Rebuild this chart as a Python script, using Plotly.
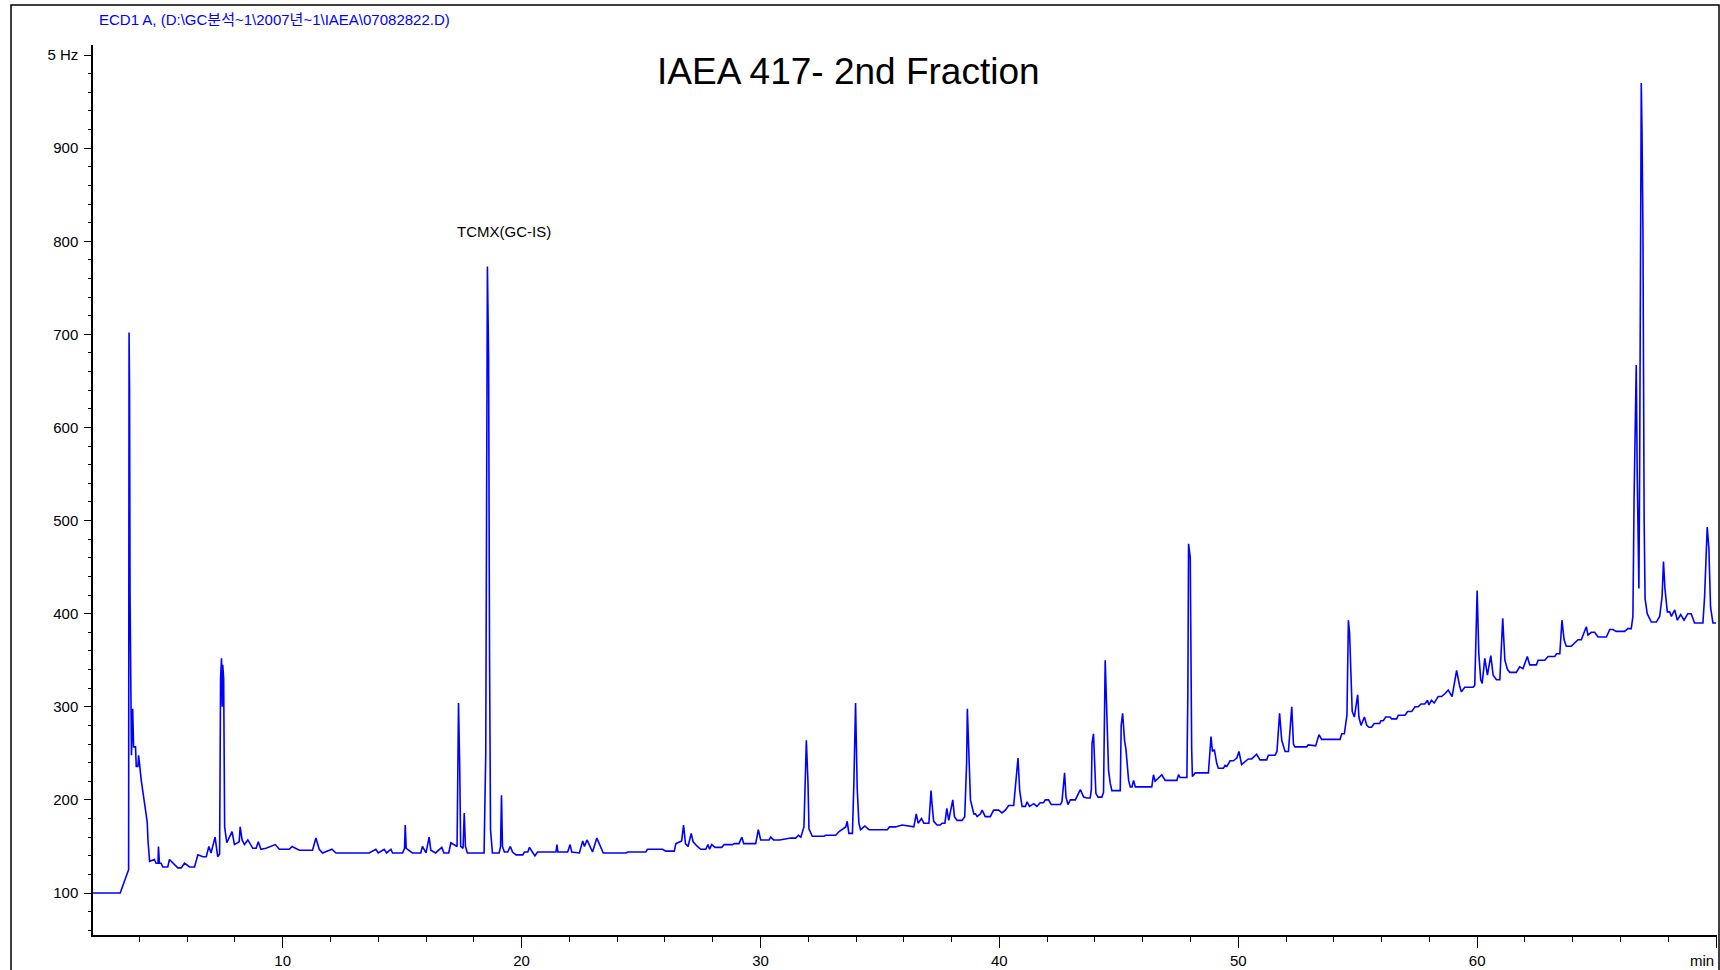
import plotly.graph_objects as go

# Retention time (min) and detector signal (Hz)
time_min = [
    2.00, 3.20, 3.24, 3.38, 3.52, 3.55, 3.57, 3.59, 3.61, 3.64, 3.67, 3.72, 3.76, 3.84, 3.87, 3.94, 3.97,
    4.08, 4.15, 4.26, 4.33, 4.36, 4.43, 4.63, 4.70, 4.78, 4.80, 4.84, 4.91, 4.98, 5.19, 5.26, 5.40, 5.61,
    5.75, 5.89, 6.10, 6.31, 6.45, 6.66, 6.80, 6.91, 7.00, 7.10, 7.17, 7.28, 7.36, 7.40, 7.44, 7.47, 7.49,
    7.53, 7.57, 7.66, 7.77, 7.88, 7.98, 8.18, 8.22, 8.30, 8.40, 8.54, 8.75, 8.89, 8.98, 9.09, 9.30, 9.69,
    9.86, 10.28, 10.39, 10.70, 11.25, 11.39, 11.53, 11.67, 12.06, 12.23, 13.62, 13.90, 14.00, 14.25, 14.35,
    14.53, 14.60, 15.02, 15.10, 15.13, 15.17, 15.43, 15.78, 15.85, 16.00, 16.13, 16.20, 16.40, 16.66, 16.75,
    16.95, 17.04, 17.30, 17.36, 17.41, 17.45, 17.55, 17.60, 17.65, 17.73, 18.43, 18.50, 18.57, 18.62, 18.66,
    18.70, 18.78, 19.06, 19.12, 19.16, 19.20, 19.28, 19.42, 19.53, 19.62, 19.77, 20.05, 20.12, 20.26, 20.33,
    20.45, 20.56, 20.67, 20.88, 21.02, 21.44, 21.48, 21.52, 21.93, 22.03, 22.10, 22.42, 22.56, 22.63, 22.74,
    22.81, 22.97, 23.15, 23.29, 23.42, 24.37, 24.44, 25.20, 25.27, 25.90, 26.04, 26.39, 26.46, 26.70, 26.78,
    26.86, 26.97, 27.10, 27.18, 27.36, 27.50, 27.71, 27.80, 27.87, 27.96, 28.10, 28.38, 28.48, 28.83, 28.90,
    29.10, 29.22, 29.30, 29.80, 29.91, 30.01, 30.36, 30.43, 30.55, 30.80, 31.00, 31.27, 31.47, 31.59, 31.69,
    31.82, 31.92, 31.99, 32.03, 32.17, 32.66, 32.73, 33.15, 33.22, 33.29, 33.57, 33.63, 33.70, 33.85, 33.91,
    33.98, 34.05, 34.12, 34.19, 34.37, 34.54, 34.61, 35.31, 35.40, 35.65, 35.93, 36.42, 36.52, 36.60, 36.74,
    36.84, 37.05, 37.09, 37.14, 37.18, 37.25, 37.39, 37.53, 37.60, 37.72, 37.80, 37.88, 38.05, 38.12, 38.23,
    38.44, 38.55, 38.63, 38.66, 38.72, 38.79, 38.93, 39.00, 39.07, 39.21, 39.28, 39.41, 39.62, 39.76, 39.97,
    40.11, 40.25, 40.39, 40.60, 40.72, 40.78, 40.85, 40.95, 41.09, 41.16, 41.26, 41.44, 41.57, 41.71, 41.85,
    41.92, 42.06, 42.17, 42.55, 42.62, 42.73, 42.79, 42.87, 42.97, 43.18, 43.39, 43.53, 43.67, 43.80, 43.85,
    43.88, 43.94, 44.04, 44.13, 44.29, 44.36, 44.43, 44.51, 44.57, 44.64, 44.71, 45.06, 45.10, 45.16, 45.24,
    45.30, 45.41, 45.48, 45.55, 45.62, 45.69, 46.38, 46.45, 46.52, 46.80, 46.94, 47.43, 47.50, 47.57, 47.85,
    47.89, 47.92, 47.99, 48.05, 48.08, 48.20, 48.75, 48.86, 48.92, 49.00, 49.10, 49.17, 49.38, 49.45, 49.52,
    49.66, 49.80, 49.94, 50.03, 50.14, 50.28, 50.42, 50.56, 50.77, 50.91, 51.19, 51.26, 51.54, 51.62, 51.73,
    51.82, 51.96, 52.10, 52.24, 52.31, 52.37, 52.86, 52.93, 53.24, 53.38, 53.49, 54.26, 54.33, 54.44, 54.55,
    54.61, 54.66, 54.72, 54.77, 54.86, 55.00, 55.05, 55.14, 55.28, 55.38, 55.47, 55.58, 55.69, 55.92, 55.97,
    56.07, 56.17, 56.35, 56.42, 56.63, 56.70, 56.98, 57.09, 57.26, 57.40, 57.53, 57.65, 57.81, 57.92, 57.98,
    58.09, 58.20, 58.37, 58.51, 58.65, 58.79, 58.95, 59.14, 59.27, 59.34, 59.48, 59.83, 59.90, 59.94, 60.00,
    60.07, 60.15, 60.21, 60.32, 60.43, 60.57, 60.67, 60.81, 60.95, 61.07, 61.16, 61.27, 61.37, 61.64, 61.78,
    61.92, 62.10, 62.20, 62.48, 62.55, 62.83, 62.97, 63.25, 63.32, 63.46, 63.55, 63.64, 63.73, 63.94, 64.08,
    64.22, 64.36, 64.57, 64.64, 64.78, 64.92, 65.06, 65.41, 65.55, 65.69, 65.82, 66.17, 66.31, 66.45, 66.52,
    66.57, 66.66, 66.70, 66.77, 66.80, 66.87, 66.90, 66.94, 66.99, 67.03, 67.12, 67.29, 67.50, 67.64, 67.74,
    67.80, 67.86, 67.96, 68.06, 68.13, 68.27, 68.38, 68.52, 68.66, 68.82, 68.96, 69.10, 69.45, 69.52, 69.63,
    69.70, 69.77, 69.87, 70.00,
]
signal_hz = [
    100, 100, 103, 114, 123, 125, 702, 640, 420, 311, 248, 298, 257, 257, 236, 236, 248,
    221, 207, 185, 176, 157, 134, 136, 132, 132, 150, 132, 132, 128, 128, 136, 132, 127,
    127, 132, 128, 128, 141, 139, 139, 150, 143, 152, 160, 139, 142, 330, 352, 300, 345,
    330, 171, 154, 161, 166, 152, 155, 171, 157, 152, 157, 148, 148, 155, 147, 148, 152,
    147, 147, 150, 146, 146, 159, 147, 143, 147, 143, 143, 147, 143, 147, 143,
    147, 143, 143, 148, 173, 148, 143, 143, 150, 143, 160, 146, 143, 149, 143,
    143, 154, 150, 304, 236, 150, 148, 186, 150, 143, 143, 248, 773, 675, 350,
    168, 143, 143, 150, 205, 150, 144, 144, 150, 144, 141, 141, 144, 144, 149,
    144, 140, 144, 144, 144, 144, 152, 144, 144, 152, 144, 143, 156, 150, 157,
    153, 144, 159, 150, 143, 143, 144, 144, 147, 147, 145, 145, 153, 156, 173,
    153, 150, 164, 155, 150, 147, 147, 152, 147, 152, 149, 149, 152, 152, 153,
    153, 160, 153, 153, 168, 157, 157, 160, 157, 157, 158, 159, 159, 162, 160,
    171, 264, 218, 169, 161, 161, 162, 162, 164, 166, 171, 177, 164, 164, 218,
    304, 212, 175, 168, 172, 168, 168, 168, 171, 171, 173, 171, 185, 175, 180,
    175, 175, 196, 210, 196, 177, 173, 173, 175, 175, 191, 178, 200, 182, 178,
    178, 182, 240, 298, 239, 200, 185, 185, 182, 185, 189, 182, 182, 189, 189,
    186, 189, 194, 194, 225, 245, 210, 193, 193, 198, 193, 196, 193, 197, 197,
    200, 200, 195, 195, 198, 229, 203, 195, 200, 200, 211, 203, 202, 202, 211,
    261, 271, 207, 203, 203, 208, 350, 268, 232, 218, 210, 210, 280, 293, 264,
    254, 221, 214, 214, 221, 214, 214, 227, 220, 227, 221, 221, 227, 224, 224,
    315, 475, 460, 255, 225, 229, 229, 268, 252, 254, 239, 234, 234, 237, 236,
    242, 242, 245, 252, 238, 241, 244, 244, 249, 243, 243, 248, 248, 252, 293,
    264, 252, 252, 300, 260, 257, 257, 259, 258, 270, 265, 265, 271, 271, 291,
    393, 379, 318, 295, 289, 313, 289, 280, 289, 280, 278, 278, 282, 282, 285,
    285, 289, 289, 287, 287, 291, 291, 295, 295, 300, 300, 303, 303, 307, 302,
    307, 304, 311, 311, 314, 318, 311, 339, 322, 316, 321, 321, 323, 373, 425,
    357, 329, 325, 352, 334, 355, 334, 329, 329, 395, 350, 340, 337, 337, 343,
    341, 354, 345, 345, 350, 350, 354, 354, 357, 357, 393, 372, 365, 365, 368,
    372, 372, 386, 377, 380, 380, 375, 375, 383, 383, 381, 381, 384, 384, 397,
    526, 667, 551, 427, 544, 970, 918, 813, 500, 416, 400, 391, 391, 397, 418,
    456, 427, 402, 402, 397, 404, 393, 399, 393, 400, 400, 390, 390, 418, 493,
    470, 407, 390, 390,
]

x_tick_vals = [10, 20, 30, 40, 50, 60, 70]
x_tick_text = ["10", "20", "30", "40", "50", "60", ""]
x_unit_label = "min"
y_tick_vals = [100, 200, 300, 400, 500, 600, 700, 800, 900, 1000]
y_tick_text = ["100", "200", "300", "400", "500", "600", "700", "800", "900", "5 Hz"]

header_text = "ECD1 A, (D:\\GC분석~1\\2007년~1\\IAEA\\07082822.D)"
title_text = "IAEA 417- 2nd Fraction"
peak_label = "TCMX(GC-IS)"
peak_label_pos = (19.28, 810)

W, H = 1720, 970
FONT = "Liberation Sans, Arial, Noto Sans CJK KR, sans-serif"

fig = go.Figure()
fig.add_trace(go.Scatter(
    x=time_min, y=signal_hz, mode="lines",
    line=dict(color="#0000ff", width=1.6),
    hoverinfo="x+y", showlegend=False,
))

fig.update_layout(
    width=W, height=H,
    margin=dict(l=0, r=0, t=0, b=0, autoexpand=False),
    paper_bgcolor="white", plot_bgcolor="white",
    font=dict(family=FONT, color="black", size=15),
    xaxis=dict(
        domain=[93 / W, 1717 / W], range=[2.06, 70.04], automargin=False,
        showgrid=False, zeroline=False,
        showline=True, linecolor="black", linewidth=1.5,
        ticks="outside", ticklen=11, tickwidth=1.2, tickcolor="black",
        tickmode="array", tickvals=x_tick_vals, ticktext=x_tick_text,
        tickfont=dict(size=15),
        minor=dict(tick0=0, dtick=2, ticks="outside", ticklen=5, tickwidth=1.2,
                   tickcolor="black", showgrid=False),
    ),
    yaxis=dict(
        domain=[35 / H, 925 / H], range=[54.9, 1010.8], automargin=False,
        showgrid=False, zeroline=False,
        showline=True, linecolor="black", linewidth=1.5,
        ticks="outside", ticklen=7, tickwidth=1.2, tickcolor="black",
        tickmode="array", tickvals=y_tick_vals, ticktext=y_tick_text,
        tickfont=dict(size=15), ticklabelstandoff=3,
        minor=dict(tick0=0, dtick=20, ticks="outside", ticklen=3, tickwidth=1.2,
                   tickcolor="black", showgrid=False),
    ),
    shapes=[
        dict(type="rect", xref="paper", yref="paper",
             x0=11 / W, x1=1719 / W, y0=-0.02, y1=1 - 5 / H,
             line=dict(color="black", width=1.5), fillcolor="rgba(0,0,0,0)", layer="below"),
    ],
    annotations=[
        dict(text=header_text, xref="paper", yref="paper", x=97 / W, y=1 - 19 / H,
             xanchor="left", yanchor="middle", showarrow=False,
             font=dict(family=FONT, size=15, color="#0000ff")),
        dict(text=title_text, xref="paper", yref="paper", x=848 / W, y=1 - 72 / H,
             xanchor="center", yanchor="middle", showarrow=False,
             font=dict(family=FONT, size=37, color="black")),
        dict(text=peak_label, xref="x", yref="y", x=peak_label_pos[0], y=peak_label_pos[1],
             xanchor="center", yanchor="middle", showarrow=False,
             font=dict(family=FONT, size=15, color="black")),
        dict(text=x_unit_label, xref="paper", yref="paper", x=1716 / W, y=1 - 960 / H,
             xanchor="right", yanchor="middle", showarrow=False,
             font=dict(family=FONT, size=15, color="black")),
    ],
)

fig.write_html("out.html")
